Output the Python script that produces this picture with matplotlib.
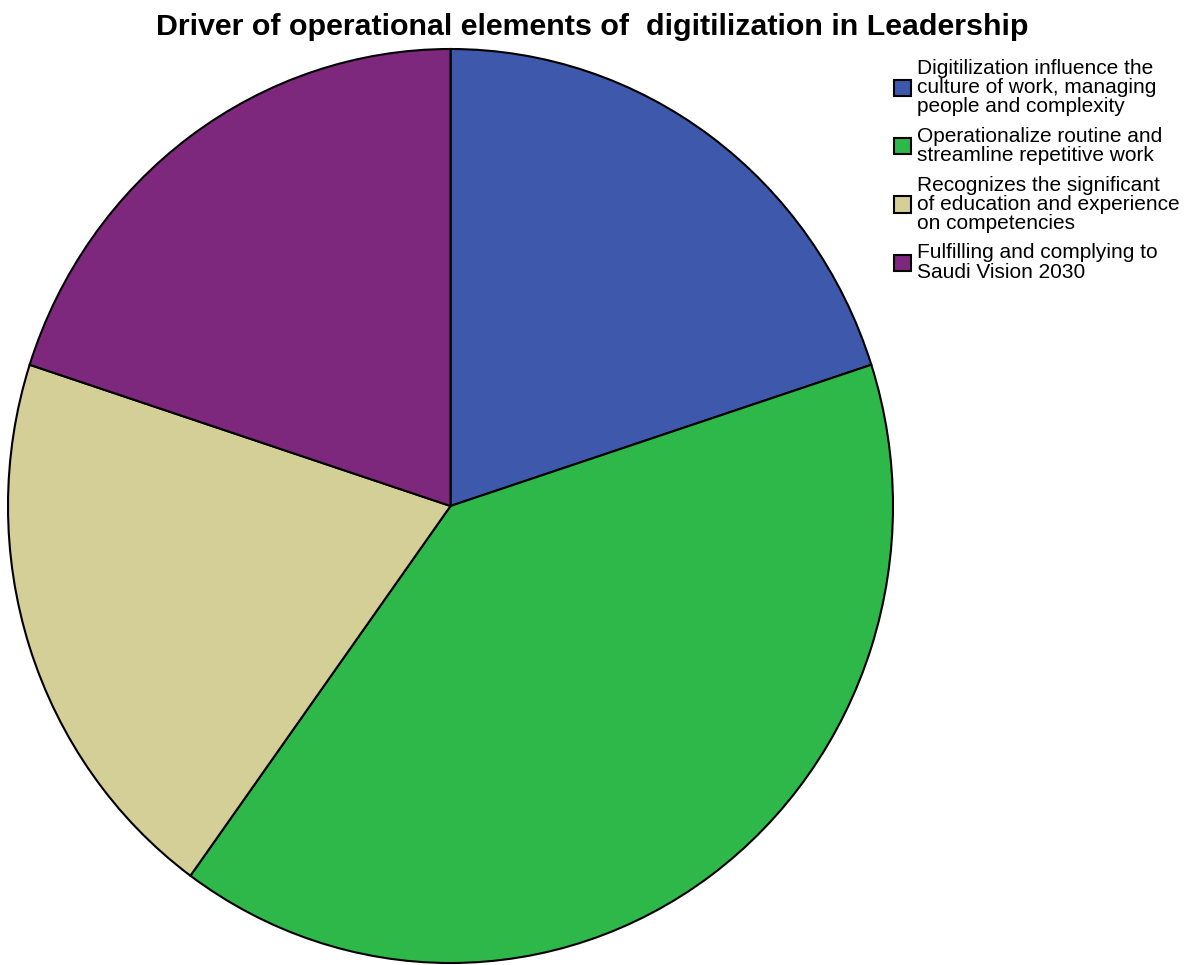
import matplotlib
matplotlib.use("Agg")
import matplotlib.pyplot as plt

categories = [
    "Digitilization influence the\nculture of work, managing\npeople and complexity",
    "Operationalize routine and\nstreamline repetitive work",
    "Recognizes the significant\nof education and experience\non competencies",
    "Fulfilling and complying to\nSaudi Vision 2030",
]
values = [20, 40, 20, 20]
colors = ["#3E58AC", "#2EB84A", "#D4CF97", "#7D287D"]
title = "Driver of operational elements of  digitilization in Leadership"

W, H = 1194, 965
fig = plt.figure(figsize=(W / 100, H / 100), dpi=100)
plt.rcParams["font.family"] = ["Liberation Sans", "DejaVu Sans"]

# pie occupies a slightly taller-than-wide box
left, right, top, bottom = 8, 893, 49, 963
ax = fig.add_axes([left / W, 1 - bottom / H, (right - left) / W, (bottom - top) / H])
wedges, _ = ax.pie(values, colors=colors, startangle=90, counterclock=False,
                   wedgeprops=dict(edgecolor="black", linewidth=1.5))
ax.set_aspect("auto")
ax.set_xlim(-1, 1)
ax.set_ylim(-1, 1)

fig.text(592 / W, 1 - 27 / H, title, ha="center", va="center",
         fontsize=21.9, fontweight="bold")

leg = fig.legend(wedges, categories, loc="upper left",
                 bbox_to_anchor=(894 / W, 1 - 59 / H), frameon=False,
                 fontsize=15, handlelength=0.82, handleheight=0.82,
                 handletextpad=0.3, labelspacing=0.52, borderpad=0,
                 borderaxespad=0)
for t in leg.get_texts():
    t.set_linespacing(1.0)

fig.savefig("out.png", dpi=100)
